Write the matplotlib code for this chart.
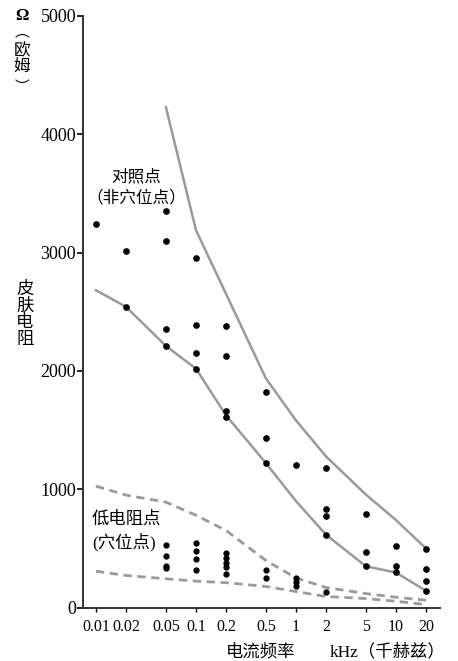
import numpy as np
import matplotlib.pyplot as plt

FONT = ['Liberation Serif', 'Noto Sans CJK SC']
plt.rcParams['font.family'] = FONT

freqs = [0.01, 0.02, 0.05, 0.1, 0.2, 0.5, 1, 2, 5, 10, 20]
freq_labels = ['0.01', '0.02', '0.05', '0.1', '0.2', '0.5', '1', '2', '5', '10', '20']

# control points (non-acupoints): upper / lower boundary
ctrl_hi_f = [0.05, 0.1, 0.2, 0.5, 1, 2, 5, 10, 20]
ctrl_hi = [4230, 3190, 2650, 1937, 1582, 1277, 955, 740, 499]
ctrl_lo = [2682, 2541, 2211, 2019, 1624, 1221, 900, 615, 349, 296, 141]

# low-resistance points (acupoints): upper / lower boundary
acu_hi = [1026, 950, 891, 780, 651, 398, 250, 169, 118, 87, 62]
acu_lo = [307, 271, 243, 223, 210, 178, 135, 93, 76, 53, 25]

ctrl_pts_f = [0.01, 0.02, 0.02, 0.05, 0.05, 0.05, 0.05, 0.1, 0.1, 0.1, 0.1,
              0.2, 0.2, 0.2, 0.2, 0.5, 0.5, 0.5, 1, 2, 2, 2, 2,
              5, 5, 5, 10, 10, 10, 20, 20, 20, 20]
ctrl_pts = [3243, 3015, 2541, 3348, 3102, 2358, 2211, 2953, 2386, 2149, 2019,
            2377, 2130, 1661, 1613, 1819, 1436, 1221, 1204, 1182, 832, 774, 616,
            788, 466, 350, 520, 354, 297, 491, 324, 227, 143]

acu_pts_f = [0.05, 0.05, 0.05, 0.05, 0.1, 0.1, 0.1, 0.1,
             0.2, 0.2, 0.2, 0.2, 0.2, 0.5, 0.5, 1, 1, 1, 2]
acu_pts = [525, 434, 350, 335, 547, 478, 406, 321,
           465, 420, 380, 340, 285, 321, 248, 250, 215, 185, 135]

fig = plt.figure(figsize=(4.58, 6.61), dpi=100)
ax = fig.add_axes([0.1812, 0.0809, 0.7795, 0.8949])

gray = '#9a9a9a'
ax.plot(ctrl_hi_f, ctrl_hi, color=gray, lw=1.8)
ax.plot(freqs, ctrl_lo, color=gray, lw=1.8)
ax.plot(freqs, acu_hi, color=gray, lw=2, ls=(0, (3, 2)))
ax.plot(freqs, acu_lo, color=gray, lw=2, ls=(0, (3, 2)))
ax.plot(ctrl_pts_f, ctrl_pts, 'o', color='black', ms=3.8, zorder=3)
ax.plot(acu_pts_f, acu_pts, 'o', color='black', ms=3.5, zorder=3)

ax.set_xscale('log')
ax.set_xlim(0.00741, 27.6)
ax.set_ylim(0, 5000)
ax.set_xticks(freqs)
ax.set_xticklabels(freq_labels, fontsize=11.5)
ax.minorticks_off()
ax.set_yticks([0, 1000, 2000, 3000, 4000, 5000])
ax.tick_params(axis='y', labelsize=13, length=4, width=1.2, pad=1)
ax.tick_params(axis='x', length=3, width=1, pad=5)
for s in ['top', 'right']:
    ax.spines[s].set_visible(False)
for s in ['left', 'bottom']:
    ax.spines[s].set_linewidth(1.4)
    ax.spines[s].set_color('#333333')

ax.text(0.025, 3640, '对照点', fontsize=12, ha='center', va='center')
ax.text(0.025, 3460, '（非穴位点）', fontsize=12, ha='center', va='center')
ax.text(0.0091, 740, '低电阻点', fontsize=12.5, ha='left', va='center')
ax.text(0.0091, 555, '(穴位点)', fontsize=12.5, ha='left', va='center')

# axis captions in figure pixels
def ftxt(px, py, s, **kw):
    fig.text(px / 458, 1 - py / 661, s, ha='center', va='center', **kw)

ftxt(22, 16, 'Ω', fontsize=12, fontweight='bold')
ftxt(22, 32, '\ufe35', fontsize=10.5, family='Noto Sans CJK SC')
ftxt(22, 51, '欧', fontsize=12)
ftxt(22, 67, '姆', fontsize=12)
ftxt(22, 87, '\ufe36', fontsize=10.5, family='Noto Sans CJK SC')
ftxt(25, 315, '皮\n肤\n电\n阻', fontsize=12.5, linespacing=1.05)
ftxt(261, 652, '电流频率', fontsize=12.5)
ftxt(388, 652, 'kHz（千赫兹）', fontsize=12.5)

fig.savefig('out.png', dpi=100)
